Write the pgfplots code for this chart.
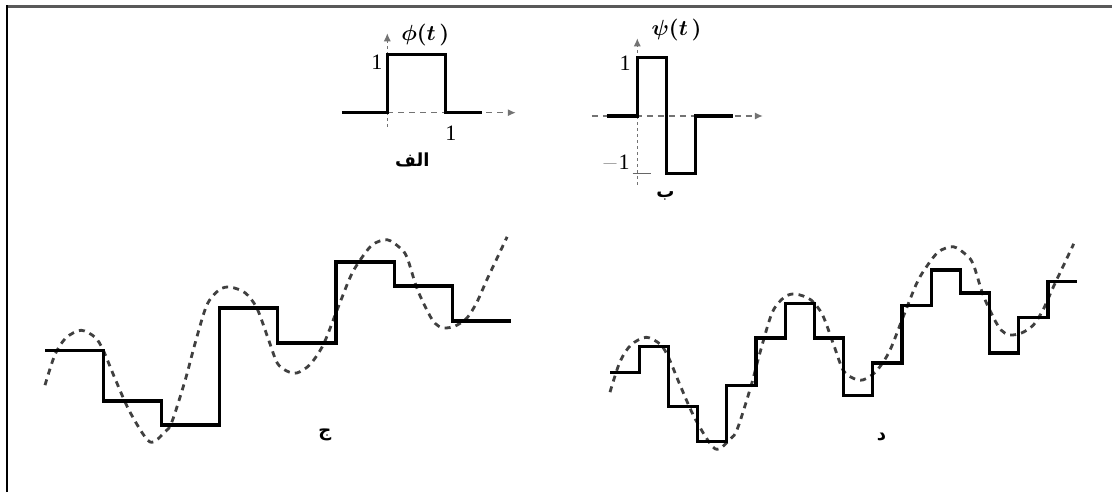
\documentclass[border=0pt]{standalone}
\usepackage{pgfplots}
\usepackage{pgfplotstable}
\pgfplotsset{compat=1.18}
\usepackage{bm}
\usepackage{fontspec}
\setmainfont{Liberation Serif}
\newfontfamily\arabicfont[Script=Arabic]{DejaVu Sans}
\TeXXeTstate=1
\usetikzlibrary{arrows.meta}

% smooth signal (t in steps, v in units)
\pgfplotstableread{
t v
0.00 1.11
0.17 1.63
0.36 1.92
0.62 2.05
0.86 1.93
1.00 1.71
1.20 1.23
1.46 0.65
1.80 0.14
2.06 0.31
2.18 0.48
2.41 1.20
2.58 1.83
2.78 2.48
2.99 2.74
3.18 2.79
3.44 2.69
3.64 2.43
3.83 1.92
3.99 1.49
4.16 1.35
4.33 1.32
4.55 1.46
4.78 1.80
5.02 2.40
5.24 2.95
5.38 3.20
5.62 3.51
5.88 3.60
6.10 3.46
6.22 3.30
6.39 2.77
6.58 2.36
6.70 2.17
6.84 2.09
7.04 2.12
7.25 2.26
7.42 2.53
7.59 2.91
7.77 3.29
7.94 3.65
}\curve

% coarse approximation (width 1)
\pgfplotstableread{
t v
0 1.70
1 0.84
2 0.43
3 2.43
4 1.83
5 3.22
6 2.81
7 2.21
8 2.21
}\coarse

% fine approximation (width 1/2)
\pgfplotstableread{
t v
0.0 1.45
0.5 1.89
1.0 0.86
1.5 0.26
2.0 1.23
2.5 2.04
3.0 2.63
3.5 2.04
4.0 1.05
4.5 1.61
5.0 2.60
5.5 3.20
6.0 2.81
6.5 1.78
7.0 2.39
7.5 3.00
8.0 3.00
}\fine

\pgfplotsset{
  panel/.style={hide axis, anchor=origin, x=29.2pt, y=29.2pt,
    clip=false, enlargelimits=false},
  sig/.style={black, line width=1.65pt, line join=miter, no marks},
  dashax/.style={black!55, line width=0.75pt, dash pattern=on 3pt off 2.5pt,
    no marks, -{Latex[length=4pt,width=3.6pt]}},
  vax/.style={black!55, line width=0.6pt, dash pattern=on 1.5pt off 1.5pt,
    no marks, -{Latex[length=4pt,width=3.6pt]}},
  wave/.style={black!75, line width=1.4pt, dash pattern=on 3pt off 2.6pt,
    smooth, no marks},
}

\begin{document}
\begin{tikzpicture}
\fill[white] (0,0) rectangle (556pt,246pt);
\draw[black!65, line width=1.5pt] (3pt,242.75pt) -- (556pt,242.75pt);
\draw[black, line width=1pt] (3.25pt,0pt) -- (3.25pt,243.5pt);

% (a) scaling function
\begin{axis}[panel, at={(193.65pt,189.65pt)},
  xmin=-0.8, xmax=2.3, ymin=-0.3, ymax=1.4]
\addplot[dashax] coordinates {(0,0) (2.2,0)};
\addplot[vax] coordinates {(0,-0.24) (0,1.36)};
\addplot[sig] coordinates {(-0.78,0) (0,0) (0,1) (1,1) (1,0) (1.62,0)};
\node at (axis cs:-0.18,0.86) {\fontsize{11}{13}\selectfont 1};
\node at (axis cs:1.09,-0.35) {\fontsize{11}{13}\selectfont 1};
\node at (axis cs:0.65,1.33) {\fontsize{11}{13}\selectfont $\bm{\phi(t\,)}$};
\node at (axis cs:0.43,-0.81) {\fontsize{9}{11}\selectfont\arabicfont\bfseries\beginR الف\endR};
\end{axis}

% (b) wavelet
\begin{axis}[panel, at={(318.65pt,188pt)},
  xmin=-0.8, xmax=2.2, ymin=-1.2, ymax=1.4]
\addplot[dashax] coordinates {(-0.78,0) (2.15,0)};
\addplot[vax] coordinates {(0,-1.18) (0,1.33)};
\addplot[black!60, line width=0.6pt, no marks] coordinates {(-0.08,-0.98) (0.24,-0.98)};
\addplot[sig] coordinates {(-0.52,0) (0,0) (0,1) (0.5,1) (0.5,-0.98) (1,-0.98) (1,0) (1.64,0)};
\node at (axis cs:-0.21,0.91) {\fontsize{11}{13}\selectfont 1};
\node at (axis cs:-0.37,-0.80) {\fontsize{11}{13}\selectfont {\color{black!40}$-$}1};
\node at (axis cs:0.67,1.47) {\fontsize{11}{13}\selectfont $\bm{\psi(t\,)}$};
\node at (axis cs:0.48,-1.37) {\fontsize{9}{11}\selectfont\arabicfont\bfseries\beginR ب\endR};
\end{axis}

% (c) coarse approximation
\begin{axis}[panel, x=29.1pt, at={(22.5pt,21pt)},
  xmin=0, xmax=8, ymin=0, ymax=3.7]
\addplot[wave] table[x=t, y=v] {\curve};
\addplot[sig, const plot mark left] table[x=t, y=v] {\coarse};
\node at (axis cs:4.81,0.26) {\fontsize{9}{11}\selectfont\arabicfont\bfseries\beginR ج\endR};
\end{axis}

% (d) fine approximation
\begin{axis}[panel, at={(305pt,17.5pt)},
  xmin=0, xmax=8, ymin=0, ymax=3.7]
\addplot[wave] table[x=t, y=v] {\curve};
\addplot[sig, const plot mark left] table[x=t, y=v] {\fine};
\node at (axis cs:4.65,0.34) {\fontsize{9}{11}\selectfont\arabicfont\bfseries\beginR د\endR};
\end{axis}

\pgfresetboundingbox
\path[use as bounding box] (0,0) rectangle (556pt,246pt);
\end{tikzpicture}
\end{document}
